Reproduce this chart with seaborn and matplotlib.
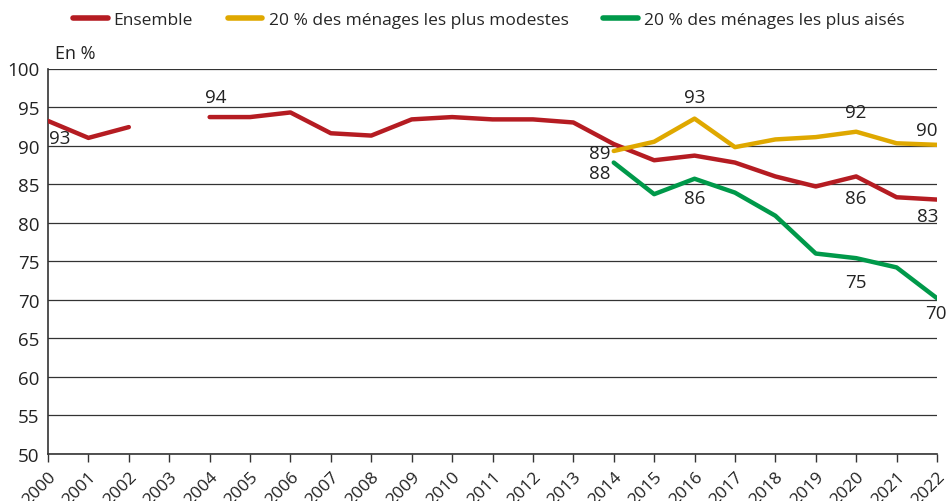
import numpy as np
import pandas as pd
import matplotlib
matplotlib.use("Agg")
import matplotlib.pyplot as plt
import matplotlib.transforms as mtransforms
import seaborn as sns
from matplotlib.lines import Line2D

years = list(range(2000, 2023))
ensemble = [93.2, 91.0, 92.4, np.nan, 93.7, 93.7, 94.3, 91.6, 91.3, 93.4, 93.7,
            93.4, 93.4, 93.0, 90.2, 88.1, 88.7, 87.8, 86.0, 84.7, 86.0, 83.3, 83.0]
modestes = [np.nan] * 14 + [89.3, 90.5, 93.5, 89.8, 90.8, 91.1, 91.8, 90.3, 90.1]
aises = [np.nan] * 14 + [87.8, 83.7, 85.7, 83.9, 80.9, 76.0, 75.4, 74.2, 70.2]

series_names = ["Ensemble", "20 % des ménages les plus modestes", "20 % des ménages les plus aisés"]
colors = ["#B51C22", "#DFA800", "#00994A"]

# labels: (series index, year, text, dx px, dy px)
labels = [
    (0, 2000, "93", 12, -17),
    (0, 2004, "94", 6, 20),
    (1, 2014, "89", -14, -2),
    (2, 2014, "88", -14, -10),
    (1, 2016, "93", 0, 22),
    (2, 2016, "86", 0, -19),
    (1, 2020, "92", 0, 20),
    (0, 2020, "86", 0, -22),
    (1, 2022, "90", -10, 15),
    (0, 2022, "83", -9, -16),
    (2, 2020, "75", 0, -24),
    (2, 2022, "70", -1, -15),
]

rows = []
for name, vals in zip(series_names, [ensemble, modestes, aises]):
    seg = 0
    for y, v in zip(years, vals):
        if np.isnan(v):
            seg += 1
            continue
        rows.append({"year": y, "value": v, "series": name, "seg": f"{name}-{seg}"})
df = pd.DataFrame(rows)

sns.set_theme(style="white")
plt.rcParams["font.family"] = ["Open Sans", "DejaVu Sans"]

fig = plt.figure(figsize=(9.49, 5.02), dpi=100)
ax = fig.add_axes([48 / 949, (502 - 455) / 502, (937 - 48) / 949, (455 - 69.5) / 502])

sns.lineplot(data=df, x="year", y="value", hue="series", units="seg", estimator=None,
             palette=dict(zip(series_names, colors)), hue_order=series_names,
             linewidth=3.2, ax=ax, legend=False, zorder=3)

ax.set_xlim(2000, 2022)
ax.set_ylim(50, 100)
ax.set_yticks(range(50, 101, 5))
ax.set_xticks(years)
ax.set_xticklabels([str(y) for y in years], rotation=45, ha="right", rotation_mode="anchor",
                   fontsize=12.5, color="#222222")
ax.tick_params(axis="x", length=6, width=1, color="#333333", pad=4, bottom=True, direction="out")
ax.tick_params(axis="y", length=0, labelsize=13.5, labelcolor="#222222", pad=6)
ax.yaxis.grid(True, color="#333333", linewidth=0.9)
ax.set_axisbelow(True)
for s in ["top", "right"]:
    ax.spines[s].set_visible(False)
for s in ["left", "bottom"]:
    ax.spines[s].set_visible(True)
    ax.spines[s].set_color("#333333")
    ax.spines[s].set_linewidth(1.2)
ax.set_xlabel("")
ax.set_ylabel("")

trans = mtransforms.blended_transform_factory(ax.transAxes, ax.transData)
ax.text(0.008, 100.8, "En %", fontsize=13, color="#222222", ha="left", va="bottom",
        transform=trans, clip_on=False)

all_vals = [ensemble, modestes, aises]
for si, yr, txt, dx, dy in labels:
    v = all_vals[si][years.index(yr)]
    ax.annotate(txt, (yr, v), xytext=(dx, dy), textcoords="offset pixels",
                ha="center", va="center", fontsize=13.5, color="#222222", zorder=4,
                annotation_clip=False)

handles = [Line2D([0], [0], color=c, linewidth=4, solid_capstyle="round") for c in colors]
fig.legend(handles, series_names, loc="center", bbox_to_anchor=(0.515, 0.958), ncol=3,
           frameon=False, fontsize=12.5, handlelength=2.0, columnspacing=2.0, handletextpad=0.35)

fig.savefig("out.png", dpi=100)
